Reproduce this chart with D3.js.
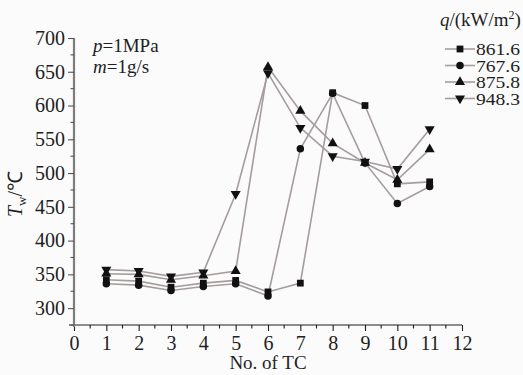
<!DOCTYPE html>
<html>
<head>
<meta charset="utf-8">
<script src="https://cdn.jsdelivr.net/npm/d3@7"></script>
<style>
  html, body { margin: 0; padding: 0; background: #fbfbfb; }
  svg { display: block; font-family: "Liberation Serif", "Times New Roman", serif; }
</style>
</head>
<body>
<svg id="chart" width="523" height="375"></svg>
<script>
// Thermocouple positions along the tube
const tcs = [1, 2, 3, 4, 5, 6, 7, 8, 9, 10, 11];

// Wall temperature (°C) at each thermocouple, per heat flux q (kW/m²)
const wall861 = [342, 340, 331, 337, 341, 324, 337, 619, 600, 484, 487];
const wall767 = [336, 334, 326, 332, 336, 318, 536, 618, 515, 455, 480];
const wall875 = [351, 350, 342, 348, 355, 657, 592, 544, 515, 490, 535];
const wall948 = [357, 355, 347, 353, 469, 648, 567, 525, 517, 506, 565];

const fluxLabels = ["861.6", "767.6", "875.8", "948.3"];
const markerKinds = ["square", "circle", "triangle", "down"];

const xTicks = [0, 1, 2, 3, 4, 5, 6, 7, 8, 9, 10, 11, 12];
const yTicks = [300, 350, 400, 450, 500, 550, 600, 650, 700];

const series = [wall861, wall767, wall875, wall948].map((vals, i) => ({
  label: fluxLabels[i],
  kind: markerKinds[i],
  points: tcs.map((t, j) => ({ t, v: vals[j] }))
}));

const svg = d3.select("#chart");
const ink = "#1e1e1e";
const lineGrey = "#a59d9d";

const x = d3.scaleLinear().domain([0, 12]).range([74, 462]);
const y = d3.scaleLinear().domain([275, 700]).range([325, 38]);

// marker shapes
function symbolFor(kind) {
  if (kind === "square") return d3.symbol().type(d3.symbolSquare).size(46)();
  if (kind === "circle") return d3.symbol().type(d3.symbolCircle).size(44)();
  return d3.symbol().type(d3.symbolTriangle).size(44)();
}
function rotFor(kind) { return kind === "down" ? " rotate(180)" : ""; }

// ---- x axis ----
const xMinor = d3.range(0.5, 12, 1);
const gx = svg.append("g").attr("transform", `translate(0,${y(275)})`);
gx.call(d3.axisBottom(x).tickValues(xTicks).tickSize(6).tickSizeOuter(0).tickPadding(6)
  .tickFormat(d3.format("d")));
gx.select(".domain").attr("stroke", ink).attr("stroke-width", 1.2).attr("d", `M69,0H${x(12)}`);
gx.selectAll(".tick line").attr("stroke", ink).attr("stroke-width", 1.1);
gx.selectAll(".tick text").attr("fill", ink).attr("font-size", 20)
  .attr("font-family", "Liberation Serif, serif").attr("y", 11);
gx.selectAll(".minor").data(xMinor).enter().append("line")
  .attr("x1", d => x(d)).attr("x2", d => x(d)).attr("y1", 0).attr("y2", 3.5)
  .attr("stroke", ink).attr("stroke-width", 1.1);

// ---- y axis ----
const yMinor = d3.range(275, 700, 50);
const gy = svg.append("g").attr("transform", `translate(${x(0)},0)`);
gy.call(d3.axisLeft(y).tickValues(yTicks).tickSize(6).tickSizeOuter(0).tickPadding(3));
gy.select(".domain").attr("stroke", "#7d7d7d").attr("stroke-width", 2.2)
  .attr("d", `M0,${y(700)}V${y(275) + 2}`);
gy.selectAll(".tick line").attr("stroke", "#555").attr("stroke-width", 1.1);
gy.selectAll(".tick text").attr("fill", ink).attr("font-size", 20)
  .attr("font-family", "Liberation Serif, serif");
gy.selectAll(".minor").data(yMinor).enter().append("line")
  .attr("x1", 0).attr("x2", -3.5).attr("y1", d => y(d)).attr("y2", d => y(d))
  .attr("stroke", "#555").attr("stroke-width", 1.1);

// ---- axis titles ----
svg.append("text")
  .attr("x", 268).attr("y", 369).attr("text-anchor", "middle")
  .attr("font-size", 19).attr("fill", ink).text("No. of TC");

const yTitle = svg.append("text")
  .attr("transform", "translate(22,194) rotate(-90)")
  .attr("text-anchor", "middle").attr("font-size", 20).attr("fill", ink);
yTitle.append("tspan").attr("font-style", "italic").text("T");
yTitle.append("tspan").attr("font-size", 13).attr("dy", 4).text("w");
yTitle.append("tspan").attr("dy", -4).text("/℃");

// ---- operating conditions ----
const cond1 = svg.append("text").attr("x", 93).attr("y", 52).attr("font-size", 19).attr("fill", ink);
cond1.append("tspan").attr("font-style", "italic").text("p");
cond1.append("tspan").text("=1MPa");
const cond2 = svg.append("text").attr("x", 93).attr("y", 73).attr("font-size", 19).attr("fill", ink);
cond2.append("tspan").attr("font-style", "italic").text("m");
cond2.append("tspan").text("=1g/s");

// ---- data lines ----
const line = d3.line().x(d => x(d.t)).y(d => y(d.v));
const plot = svg.append("g");
series.forEach(s => {
  plot.append("path").datum(s.points).attr("d", line)
    .attr("fill", "none").attr("stroke", lineGrey).attr("stroke-width", 1.6);
});
series.forEach(s => {
  plot.selectAll(null).data(s.points).enter().append("path")
    .attr("d", symbolFor(s.kind))
    .attr("transform", d => `translate(${x(d.t)},${y(d.v)})${rotFor(s.kind)}`)
    .attr("fill", "#111");
});

// ---- legend ----
const legTitle = svg.append("text").attr("x", 440).attr("y", 26).attr("font-size", 19).attr("fill", ink);
legTitle.append("tspan").attr("font-style", "italic").text("q");
legTitle.append("tspan").text("/(kW/m");
legTitle.append("tspan").attr("font-size", 12).attr("dy", -7).text("2");
legTitle.append("tspan").attr("dy", 7).text(")");

// compact rows: labels are set slightly narrow-height and stretched to width
const legRows = [49, 65.5, 82, 98.5];
series.forEach((s, i) => {
  const g = svg.append("g").attr("transform", `translate(0,${legRows[i]})`);
  g.append("line").attr("x1", 445).attr("x2", 475).attr("y1", 0).attr("y2", 0)
    .attr("stroke", lineGrey).attr("stroke-width", 1.6);
  g.append("path").attr("d", symbolFor(s.kind))
    .attr("transform", `translate(460,0)${rotFor(s.kind)}`).attr("fill", "#111");
  g.append("text").attr("transform", "translate(476,6) scale(1.12,1)")
    .attr("font-size", 17.5).attr("fill", ink).text(s.label);
});
</script>
</body>
</html>
